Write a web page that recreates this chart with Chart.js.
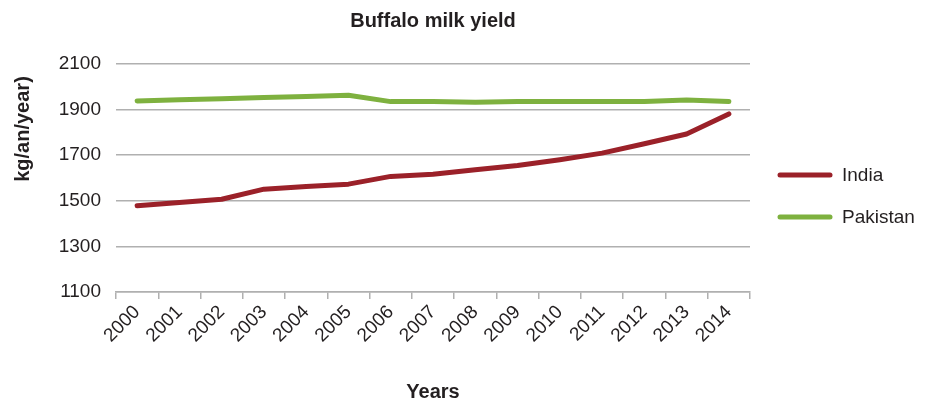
<!DOCTYPE html>
<html>
<head>
<meta charset="utf-8">
<script src="https://cdn.jsdelivr.net/npm/chart.js@4/dist/chart.umd.min.js"></script>
<style>
  html, body { margin: 0; padding: 0; background: #fff; }
  #wrap { width: 925px; height: 402px; position: relative; }
</style>
</head>
<body>
<div id="wrap"><canvas id="c"></canvas></div>
<script>
const years = ["2000","2001","2002","2003","2004","2005","2006","2007","2008","2009","2010","2011","2012","2013","2014"];
const india = [1478, 1493, 1507, 1551, 1563, 1573, 1607, 1616, 1636, 1655, 1680, 1709, 1750, 1793, 1881];
const pakistan = [1938, 1943, 1948, 1953, 1958, 1963, 1935, 1935, 1932, 1935, 1935, 1935, 1935, 1942, 1935];
const yTicks = [1100, 1300, 1500, 1700, 1900, 2100];
const yTitle = 'kg/an/year)';

const FONT = "'Liberation Sans', Arial, sans-serif";
const TXT = '#231f20';
const GRID = '#b0b0b0';

const extrasPlugin = {
  id: 'extras',
  afterDraw(chart) {
    const ctx = chart.ctx;
    // y-axis title
    ctx.save();
    ctx.translate(23, 129);
    ctx.rotate(-Math.PI / 2);
    ctx.fillStyle = TXT;
    ctx.font = 'bold 20px ' + FONT;
    ctx.textAlign = 'center';
    ctx.textBaseline = 'middle';
    ctx.fillText(yTitle, 0, 0);
    ctx.restore();
    // legend
    const ys = [175, 217];
    chart.data.datasets.forEach((ds, i) => {
      const y = ys[i];
      ctx.save();
      ctx.strokeStyle = ds.borderColor;
      ctx.lineWidth = 5;
      ctx.lineCap = 'round';
      ctx.beginPath();
      ctx.moveTo(780, y);
      ctx.lineTo(830, y);
      ctx.stroke();
      ctx.fillStyle = TXT;
      ctx.font = '19px ' + FONT;
      ctx.textBaseline = 'middle';
      ctx.fillText(ds.label, 842, y + 1);
      ctx.restore();
    });
  }
};

new Chart(document.getElementById('c'), {
  type: 'line',
  data: {
    labels: years,
    datasets: [
      { label: 'India', data: india, borderColor: '#9b2129', backgroundColor: '#9b2129', borderWidth: 5, pointRadius: 0, tension: 0, borderCapStyle: 'round', borderJoinStyle: 'round' },
      { label: 'Pakistan', data: pakistan, borderColor: '#7eb13f', backgroundColor: '#7eb13f', borderWidth: 5, pointRadius: 0, tension: 0, borderCapStyle: 'round', borderJoinStyle: 'round' }
    ]
  },
  options: {
    responsive: true,
    maintainAspectRatio: false,
    animation: false,
    layout: { padding: { left: 0, right: 175, top: 5, bottom: 0 } },
    plugins: {
      legend: { display: false },
      tooltip: { enabled: false },
      title: {
        display: true,
        fullSize: false,
        text: 'Buffalo milk yield',
        color: TXT,
        font: { family: FONT, size: 20, weight: 'bold', lineHeight: 1.2 },
        padding: { top: 4, bottom: 31 }
      }
    },
    scales: {
      x: {
        offset: true,
        afterFit(axis) { axis.height = 110; axis.paddingLeft = 0; axis.paddingRight = 0; },
        grid: { offset: true, drawOnChartArea: false, drawTicks: true, tickLength: 7, color: GRID, lineWidth: 1.5 },
        border: { display: true, color: GRID, width: 1.5 },
        ticks: { color: TXT, font: { family: FONT, size: 19 }, minRotation: 45, maxRotation: 45, padding: 2, autoSkip: false },
        title: { display: true, text: 'Years', color: TXT, font: { family: FONT, size: 20, weight: 'bold', lineHeight: 1 }, padding: { top: 10, bottom: 0 } }
      },
      y: {
        min: 1100,
        max: 2100,
        afterFit(axis) { axis.width = 116; },
        afterBuildTicks(axis) { axis.ticks = yTicks.map(v => ({ value: v })); },
        grid: { drawTicks: false, color: GRID, lineWidth: 1.5 },
        border: { display: false },
        ticks: { color: TXT, font: { family: FONT, size: 19 }, padding: 15, callback: v => String(v) },
        title: { display: false }
      }
    }
  },
  plugins: [extrasPlugin]
});
</script>
</body>
</html>
